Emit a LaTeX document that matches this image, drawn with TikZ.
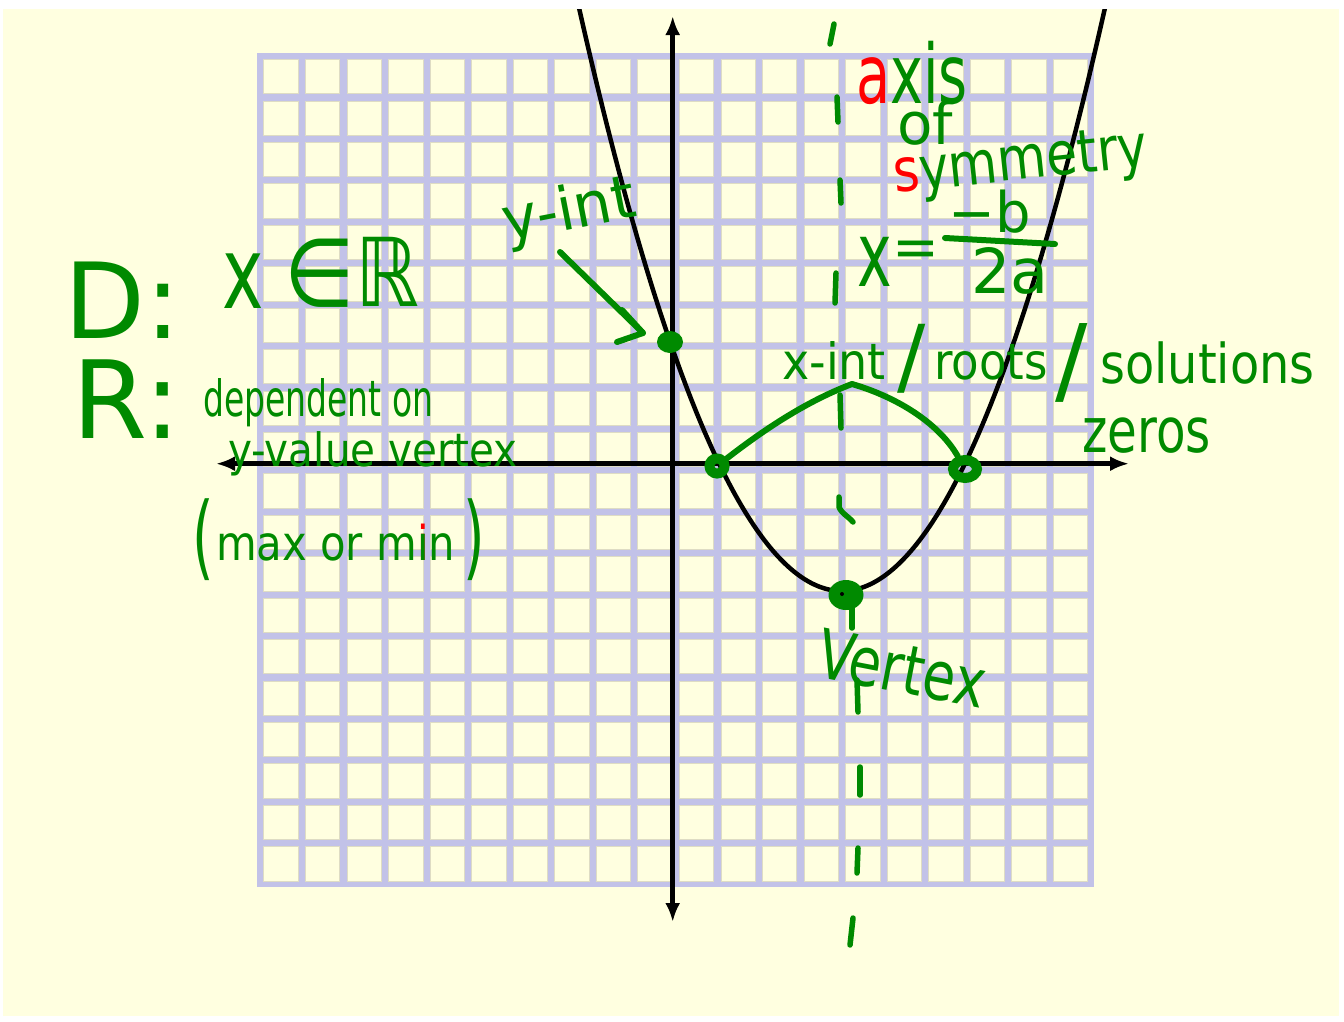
\documentclass[tikz,border=0pt]{standalone}
\usepackage{fontspec}
\usepackage{graphicx}
\setmainfont{DejaVu Sans}
\newfontfamily\handfont{DejaVu Sans}
\usetikzlibrary{arrows.meta,shapes.geometric}
\definecolor{hwgreen}{RGB}{0,138,0}
\definecolor{hwred}{RGB}{255,0,0}
\definecolor{paper}{RGB}{255,255,224}
\definecolor{gridlav}{RGB}{194,194,232}
\definecolor{gridedge}{RGB}{222,220,196}
\newcommand\hws[1]{\fontsize{#1}{#1}\selectfont}
\newcommand\hsq[2]{\scalebox{#1}[1]{#2}}
\begin{document}
\begin{tikzpicture}[x=1pt,y=-1pt,
  hw/.style={text=hwgreen, inner sep=0pt, font=\handfont},
  ink/.style={draw=hwgreen, line width=6pt, line cap=round, line join=round},
  dashink/.style={draw=hwgreen, line width=5.5pt, line cap=round, line join=round},
  axisline/.style={draw=black, line width=4.5pt, {Latex[length=19pt,width=15pt]}-{Latex[length=19pt,width=15pt]}},
  curveline/.style={draw=black, line width=4.5pt},
  dotnode/.style={fill=hwgreen, inner sep=0pt}]
\useasboundingbox (0,0) rectangle (1344,1021);
\fill[white] (0,0) rectangle (1344,1021);
\fill[paper] (3,9) rectangle (1339,1016);
% grid
\fill[gridlav] (257,52.7) rectangle (1094,887.3);
\foreach \i in {0,...,19}{
  \foreach \j in {0,...,19}{
    \filldraw[fill=paper, draw=gridedge, line width=0.7pt]
      ({263.8+41.55*\i},{59.5+41.43*\j}) rectangle ++(34.4,34.3);
  }
}
% axes
\coordinate (xL) at (216,463.7);
\coordinate (xR) at (1129,463.7);
\coordinate (yT) at (672.7,16);
\coordinate (yB) at (672.7,922);
\draw[axisline] (xL) -- (xR);
\draw[axisline] (yB) -- (yT);
% parabola
\begin{scope}
\clip (3,9) rectangle (1339,1016);
\draw[curveline] plot[domain=-264:264, samples=121, smooth] ({842+\x},{591-(0.09182*\x)*(0.09182*\x)});
\end{scope}
% axis of symmetry dashes
\foreach \a/\b/\c/\d in {834/24/830/44, 837/97/838/122, 840/180/841/203, 836/273/835/303, 840/395/841/428, 852/607/852/628, 857/680/858/712, 860/767/860/795, 858/848/857/873, 853/918/850/945}
  \draw[dashink] (\a,\b) -- (\c,\d);
\draw[dashink] (839,497) -- (839,507) .. controls (842,514) and (848,516) .. (853,522);
% points
\node[dotnode, ellipse, minimum width=26pt, minimum height=22pt] (ydot) at (670,342) {};
\node[circle, draw=hwgreen, line width=10pt, inner sep=0pt, minimum size=15pt] (r1) at (717,466) {};
\node[ellipse, draw=hwgreen, line width=10pt, inner sep=0pt, minimum width=24pt, minimum height=18pt] (r2) at (965,469) {};
\node[dotnode, ellipse, minimum width=35pt, minimum height=30pt] (vdot) at (846,595) {};
\fill[black] (842,594) circle[radius=2];
% tent to the roots
\coordinate (peak) at (852,384);
\draw[ink] (r1) .. controls (770,425) and (810,400) .. (peak) .. controls (900,398) and (940,425) .. (r2);
% y-int arrow
\coordinate (ya) at (560,252);
\coordinate (yb) at (643,333);
\draw[ink] (ya) -- (yb);
\draw[ink] (yb) ++(-21,-23) -- (yb) -- ++(-26,9);
% texts
\node[hw, anchor=base west, rotate=11] (yint) at (506,242) {\hws{60}y-int};
\node[hw, anchor=base west] (dlbl) at (64,338) {\hws{105}D:};
\node[hw] (xdom) at (243,281) {\hws{100}\hsq{0.7}{x}};
\node[hw] (elem) at (352,272) {\hws{95}\hsq{0.85}{∈ℝ}};
\node[hw, anchor=base west] (rlbl) at (72,438) {\hws{108}R:};
\node[hw, anchor=base west] (dep) at (203,416) {\hws{50}\hsq{0.66}{dependent on}};
\node[hw, anchor=base west] (yval) at (228,466) {\hws{46}\hsq{0.88}{y-value vertex}};
\node[hw] (lpar) at (203,540) {\hws{92}\hsq{0.6}{(}};
\node[hw, anchor=base west] (maxmin) at (216,560) {\hws{48}\hsq{0.87}{max or m\rlap{\color{hwred}i}ın}};
\node[hw] (rpar) at (474,540) {\hws{92}\hsq{0.6}{)}};
\node[hw, anchor=base west] (axis) at (856,103) {\hws{82}\hsq{0.68}{\textcolor{hwred}{a}xis}};
\node[hw, anchor=base west] (of) at (897,144) {\hws{58}of};
\node[hw, anchor=base west, rotate=6] (sym) at (895,193) {\hws{60}\hsq{0.84}{\textcolor{hwred}{s}ymmetry}};
\node[hw] (xeq) at (875,262) {\hws{90}\hsq{0.65}{x}};
\node[hw] (eqs) at (916,254) {\hws{56}=};
\node[hw, anchor=base] (negb) at (990,232) {\hws{56}−b};
\coordinate (fracL) at (945,238);
\coordinate (fracR) at (1055,244);
\draw[ink] (fracL) -- (fracR);
\node[hw, anchor=base] (twoa) at (1010,293) {\hws{62}2a};
\node[hw, anchor=base west] (xint) at (782,379) {\hws{50}\hsq{0.92}{x-int}};
\node[hw] (sl1) at (912,359) {\hws{84}/};
\node[hw, anchor=base west] (roots) at (934,379) {\hws{50}\hsq{0.9}{roots}};
\node[hw] (sl2) at (1072,363) {\hws{96}/};
\node[hw, anchor=base west] (sols) at (1100,383) {\hws{55}\hsq{0.87}{solutions}};
\node[hw, anchor=base west] (zeros) at (1082,452) {\hws{62}\hsq{0.78}{zeros}};
\node[hw, anchor=base west, rotate=-11] (vtx) at (814,676) {\hws{68}\hsq{0.78}{Vertex}};
\end{tikzpicture}
\end{document}
